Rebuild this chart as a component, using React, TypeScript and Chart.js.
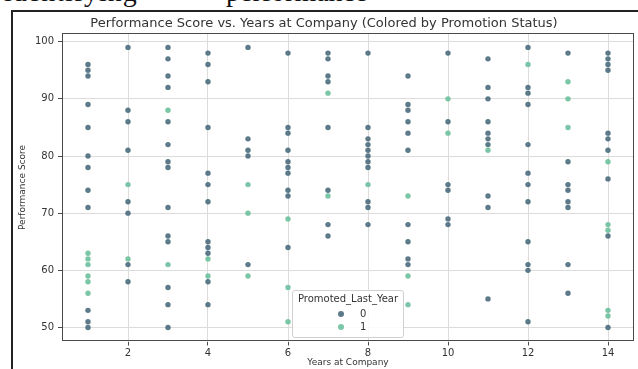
import React, { useEffect, useRef } from 'react';
import { Chart, registerables } from 'chart.js';

Chart.register(...registerables);

const years = [1, 2, 3, 4, 5, 6, 7, 8, 9, 10, 11, 12, 13, 14];

// Performance scores of employees NOT promoted last year (index = years - 1)
const notPromotedScores: number[][] = [
  [96, 95, 94, 89, 85, 80, 78, 74, 71, 53, 51, 50],
  [99, 88, 86, 81, 72, 70, 61, 58],
  [99, 97, 94, 92, 86, 82, 79, 78, 71, 66, 65, 57, 54, 50],
  [98, 96, 93, 85, 77, 75, 72, 65, 64, 63, 58, 54],
  [99, 83, 81, 80, 61],
  [98, 85, 84, 81, 79, 78, 77, 74, 73, 64],
  [98, 97, 94, 93, 85, 74, 68, 66],
  [98, 85, 83, 82, 81, 80, 79, 78, 72, 71, 68],
  [94, 89, 88, 86, 84, 81, 68, 65, 62, 61],
  [98, 86, 75, 74, 69, 68],
  [97, 92, 90, 86, 84, 83, 82, 73, 71, 55],
  [99, 92, 91, 89, 82, 77, 75, 72, 65, 61, 60, 51],
  [98, 79, 75, 74, 72, 71, 61, 56],
  [98, 97, 96, 95, 84, 83, 81, 76, 66, 50],
];

// Performance scores of employees promoted last year (index = years - 1)
const promotedScores: number[][] = [
  [63, 62, 61, 59, 58, 56],
  [75, 62],
  [88, 61],
  [62, 59],
  [75, 70, 59],
  [69, 57, 51],
  [91, 73],
  [75],
  [73, 59, 54],
  [90, 84],
  [81],
  [96],
  [93, 90, 85],
  [79, 68, 67, 53, 52],
];

const xTicks = [2, 4, 6, 8, 10, 12, 14];
const yTicks = [50, 60, 70, 80, 90, 100];
const legendLabels = ['0', '1'];

const COLOR0 = 'rgba(74, 108, 124, 0.9)';
const COLOR1 = 'rgba(110, 192, 158, 0.9)';
const FONT = "'DejaVu Sans', sans-serif";

function toPoints(scores: number[][]) {
  const pts: { x: number; y: number }[] = [];
  years.forEach((yr, i) => {
    (scores[i] || []).forEach((s) => pts.push({ x: yr, y: s }));
  });
  return pts;
}

const framePlugin = {
  id: 'frame',
  beforeDatasetsDraw(chart: any) {
    const { ctx, chartArea } = chart;
    ctx.save();
    ctx.strokeStyle = '#4a4a4a';
    ctx.lineWidth = 1;
    ctx.strokeRect(
      Math.round(chartArea.left) + 0.5,
      Math.round(chartArea.top) + 0.5,
      Math.round(chartArea.right - chartArea.left) - 1,
      Math.round(chartArea.bottom - chartArea.top) - 1
    );
    ctx.restore();
  },
};

export default function App() {
  const ref = useRef<HTMLCanvasElement | null>(null);

  useEffect(() => {
    if (!ref.current) return;
    const chart = new Chart(ref.current, {
      type: 'scatter',
      data: {
        datasets: [
          {
            label: legendLabels[0],
            data: toPoints(notPromotedScores),
            backgroundColor: COLOR0,
            borderWidth: 0,
            pointRadius: 2.7,
          },
          {
            label: legendLabels[1],
            data: toPoints(promotedScores),
            backgroundColor: COLOR1,
            borderWidth: 0,
            pointRadius: 2.7,
          },
        ],
      },
      options: {
        responsive: false,
        animation: false,
        layout: { padding: { left: 14, right: 4, top: 0, bottom: 0 } },
        plugins: {
          legend: { display: false },
          tooltip: { enabled: false },
          title: {
            display: true,
            text: 'Performance Score vs. Years at Company (Colored by Promotion Status)',
            color: '#333',
            font: { family: FONT, size: 13, weight: 'normal' },
            padding: { top: 16, bottom: 1.8 },
          },
        },
        scales: {
          x: {
            type: 'linear',
            min: 0.35,
            max: 14.65,
            afterBuildTicks: (scale: any) => {
              scale.ticks = xTicks.map((v) => ({ value: v }));
            },
            afterFit: (scale: any) => {
              scale.height = 27.5;
            },
            grid: {
              color: '#dcdcdc',
              drawTicks: true,
              tickLength: 4,
              tickColor: '#4a4a4a',
            },
            border: { display: false },
            ticks: {
              color: '#333',
              font: { family: FONT, size: 10 },
              padding: 2,
            },
            title: {
              display: true,
              text: 'Years at Company',
              color: '#333',
              font: { family: FONT, size: 9 },
              padding: { top: 0, bottom: 1 },
            },
          },
          y: {
            type: 'linear',
            min: 47.55,
            max: 101.45,
            afterBuildTicks: (scale: any) => {
              scale.ticks = yTicks.map((v) => ({ value: v }));
            },
            afterFit: (scale: any) => {
              scale.width = 48;
            },
            grid: {
              color: '#dcdcdc',
              drawTicks: true,
              tickLength: 4,
              tickColor: '#4a4a4a',
            },
            border: { display: false },
            ticks: {
              color: '#333',
              font: { family: FONT, size: 10 },
              padding: 4,
            },
            title: {
              display: true,
              text: 'Performance Score',
              color: '#333',
              font: { family: FONT, size: 9 },
              padding: { top: 3, bottom: 0 },
            },
          },
        },
      },
      plugins: [framePlugin],
    } as any);
    return () => chart.destroy();
  }, []);

  const marker = (color: string, top: number) => (
    <div
      style={{
        position: 'absolute',
        left: 338,
        top: top - 3,
        width: 6,
        height: 6,
        borderRadius: '50%',
        background: color,
      }}
    />
  );

  return (
    <div
      style={{
        position: 'fixed',
        left: 0,
        top: 0,
        width: 638,
        height: 369,
        background: '#fff',
        overflow: 'hidden',
      }}
    >
      <div
        style={{
          position: 'absolute',
          left: 0,
          top: 0,
          width: 638,
          height: 9,
          overflow: 'hidden',
          fontFamily: "'Liberation Serif', serif",
          fontSize: 28,
          lineHeight: '28px',
          color: '#111',
        }}
      >
        <span style={{ position: 'absolute', left: 4, top: -22, letterSpacing: 1 }}>identifying</span>
        <span style={{ position: 'absolute', left: 226, top: -22 }}>performance</span>
      </div>
      <canvas
        ref={ref}
        width={638}
        height={369}
        style={{ position: 'absolute', left: 0, top: 0 }}
      />
      <div
        style={{
          position: 'absolute',
          left: 11,
          top: 10,
          width: 627,
          height: 2,
          background: '#222',
        }}
      />
      <div
        style={{
          position: 'absolute',
          left: 11,
          top: 10,
          width: 2,
          height: 359,
          background: '#222',
        }}
      />
      <div
        style={{
          position: 'absolute',
          left: 292,
          top: 290,
          width: 110,
          height: 46,
          border: '1px solid #d0d0d0',
          borderRadius: 3,
          background: 'rgba(255,255,255,0.85)',
          fontFamily: FONT,
          color: '#333',
        }}
      >
        <div
          style={{
            position: 'absolute',
            left: 0,
            width: 110,
            top: 2,
            textAlign: 'center',
            fontSize: 10,
            lineHeight: '12px',
          }}
        >
          Promoted_Last_Year
        </div>
        <div style={{ position: 'absolute', left: 67, top: 17, fontSize: 10, lineHeight: '12px' }}>
          {legendLabels[0]}
        </div>
        <div style={{ position: 'absolute', left: 67, top: 30, fontSize: 10, lineHeight: '12px' }}>
          {legendLabels[1]}
        </div>
      </div>
      {marker(COLOR0, 314)}
      {marker(COLOR1, 327)}
    </div>
  );
}
